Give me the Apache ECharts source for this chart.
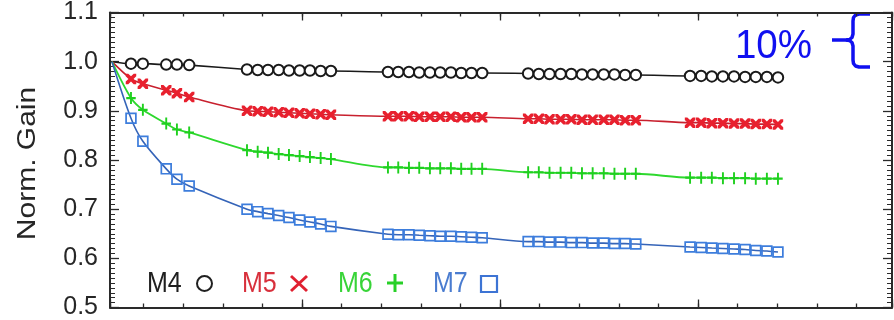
<!DOCTYPE html>
<html>
<head>
<meta charset="utf-8">
<script src="https://cdn.jsdelivr.net/npm/echarts@6/dist/echarts.min.js"></script>
<style>html,body{margin:0;padding:0;background:#fff}#c{width:894px;height:320px}</style>
</head>
<body>
<div id="c"></div>
<script>
// x positions of the measurements (arbitrary x units; x labels are cut off in the reference)
const xValues = [0.20, 0.68, 0.98, 1.57, 1.84, 2.15,
  3.61, 3.88, 4.14, 4.41, 4.67, 4.94, 5.20, 5.47, 5.73,
  7.17, 7.43, 7.70, 7.96, 8.23, 8.49, 8.76, 9.02, 9.28, 9.55,
  10.71, 10.98, 11.25, 11.53, 11.80, 12.07, 12.34, 12.62, 12.89, 13.16, 13.43,
  14.80, 15.08, 15.35, 15.63, 15.91, 16.19, 16.46, 16.74, 17.02];
const m4 = [1.000, 0.996, 0.996, 0.994, 0.994, 0.993,
  0.984, 0.983, 0.983, 0.983, 0.982, 0.982, 0.982, 0.981, 0.981,
  0.979, 0.979, 0.979, 0.978, 0.978, 0.978, 0.978, 0.977, 0.977, 0.977,
  0.976, 0.975, 0.975, 0.975, 0.975, 0.974, 0.974, 0.974, 0.974, 0.973, 0.973,
  0.971, 0.971, 0.970, 0.970, 0.970, 0.969, 0.969, 0.969, 0.968];
const m5 = [1.000, 0.965, 0.955, 0.942, 0.936, 0.928,
  0.900, 0.899, 0.898, 0.897, 0.896, 0.895, 0.894, 0.893, 0.892,
  0.889, 0.889, 0.889, 0.888, 0.888, 0.888, 0.888, 0.887, 0.887, 0.887,
  0.884, 0.884, 0.883, 0.883, 0.883, 0.882, 0.882, 0.882, 0.882, 0.881, 0.881,
  0.876, 0.876, 0.875, 0.875, 0.874, 0.874, 0.873, 0.873, 0.872];
const m6 = [1.000, 0.926, 0.902, 0.874, 0.862, 0.856,
  0.820, 0.817, 0.815, 0.812, 0.810, 0.808, 0.806, 0.804, 0.802,
  0.785, 0.785, 0.784, 0.784, 0.783, 0.783, 0.783, 0.782, 0.782, 0.782,
  0.775, 0.775, 0.774, 0.774, 0.774, 0.773, 0.773, 0.773, 0.772, 0.772, 0.772,
  0.764, 0.764, 0.764, 0.763, 0.763, 0.763, 0.762, 0.762, 0.762];
const m7 = [1.000, 0.885, 0.838, 0.782, 0.761, 0.747,
  0.700, 0.695, 0.691, 0.687, 0.683, 0.678, 0.674, 0.670, 0.665,
  0.649, 0.648, 0.648, 0.647, 0.646, 0.645, 0.645, 0.644, 0.643, 0.642,
  0.634, 0.634, 0.633, 0.633, 0.632, 0.632, 0.631, 0.631, 0.630, 0.630, 0.629,
  0.623, 0.622, 0.621, 0.620, 0.619, 0.618, 0.616, 0.615, 0.613];
const yMin = 0.5, yMax = 1.1, yStep = 0.1;
const xMin = 0.15, xMax = 19.9;
const legendNames = ['M4', 'M5', 'M6', 'M7'];
const yTitle = 'Norm. Gain';
const noteText = '10%';

const FONT = "'Liberation Sans', Arial, Helvetica, sans-serif";
const AX = '#2a2a2a';

function pts(ys) {
  return ys.map((y, i) => i === 0 ? { value: [xValues[i], y], symbol: 'none' } : [xValues[i], y]);
}

const xPath = 'path://M0,0 L2.4,0 L5,2.6 L7.6,0 L10,0 L10,2.4 L7.4,5 L10,7.6 L10,10 L7.6,10 L5,7.4 L2.4,10 L0,10 L0,7.6 L2.6,5 L0,2.4 Z';
const plusPath = 'path://M4,0 L6,0 L6,4.1 L10,4.1 L10,5.9 L6,5.9 L6,10 L4,10 L4,5.9 L0,5.9 L0,4.1 L4,4.1 Z';
const sqPath = 'path://M0,0 L10,0 L10,10 L0,10 Z M1.5,1.5 L1.5,8.5 L8.5,8.5 L8.5,1.5 Z';

function tickAxis(pos, split, len) {
  return {
    type: 'value', position: pos, min: xMin, max: xMax, splitNumber: split,
    axisLine: { show: false }, axisLabel: { show: false }, splitLine: { show: false },
    axisTick: { show: true, inside: true, length: len, lineStyle: { color: AX, width: 1.3 } }
  };
}

const SM = 0.3;
const blue = '#1010f0';
const chart = echarts.init(document.getElementById('c'), null, { renderer: 'canvas' });
chart.setOption({
  animation: false,
  backgroundColor: '#fff',
  grid: { left: 110, right: 2, top: 12, bottom: 6, containLabel: false },
  xAxis: [
    { type: 'value', position: 'bottom', min: xMin, max: xMax,
      axisLine: { show: true, onZero: false, lineStyle: { color: AX, width: 2 } },
      axisTick: { show: false }, axisLabel: { show: false }, splitLine: { show: false } },
    tickAxis('bottom', 20, 4),
    tickAxis('bottom', 4, 8),
    Object.assign(tickAxis('top', 20, 4), { axisLine: { show: true, onZero: false, lineStyle: { color: AX, width: 2 } } }),
    tickAxis('top', 4, 8)
  ],
  yAxis: [
    { type: 'value', position: 'left', min: yMin, max: yMax, interval: yStep,
      axisLine: { show: true, onZero: false, lineStyle: { color: AX, width: 2 } },
      axisTick: { show: true, inside: true, length: 9, lineStyle: { color: AX, width: 1.3 } },
      minorTick: { show: true, splitNumber: 10, length: 5, lineStyle: { color: AX, width: 1 } },
      splitLine: { show: false },
      axisLabel: { show: true, margin: 12, fontSize: 25, fontFamily: FONT, color: '#262626',
        formatter: v => v.toFixed(1) } },
    { type: 'value', position: 'right', min: yMin, max: yMax, interval: yStep,
      axisLine: { show: true, onZero: false, lineStyle: { color: AX, width: 2 } },
      axisTick: { show: true, inside: true, length: 9, lineStyle: { color: AX, width: 1.3 } },
      minorTick: { show: true, splitNumber: 10, length: 5, lineStyle: { color: AX, width: 1 } },
      splitLine: { show: false }, axisLabel: { show: false } }
  ],
  series: [
    { name: legendNames[0], type: 'line', data: pts(m4), smooth: SM,
      symbol: 'emptyCircle', symbolSize: 10.5,
      lineStyle: { color: '#1a1a1a', width: 1.6 },
      itemStyle: { color: '#1a1a1a', borderColor: '#1a1a1a', borderWidth: 1.8 } },
    { name: legendNames[1], type: 'line', data: pts(m5), smooth: SM,
      symbol: xPath, symbolSize: 10.5,
      lineStyle: { color: '#c8202e', width: 1.6 },
      itemStyle: { color: '#e8202e', borderWidth: 0 } },
    { name: legendNames[2], type: 'line', data: pts(m6), smooth: SM,
      symbol: plusPath, symbolSize: [9.5, 12],
      lineStyle: { color: '#2ed82e', width: 1.8 },
      itemStyle: { color: '#1fd01f', borderWidth: 0 } },
    { name: legendNames[3], type: 'line', data: pts(m7), smooth: SM,
      symbol: sqPath, symbolSize: 11.5,
      lineStyle: { color: '#3564b8', width: 1.6 },
      itemStyle: { color: '#3d7ddc', borderWidth: 0 } }
  ],
  graphic: [
    { type: 'text', x: 28, y: 163.5, rotation: Math.PI / 2, scaleX: 1.2,
      style: { text: yTitle, font: '25px ' + FONT, fill: '#262626', align: 'center', verticalAlign: 'middle' } },
    { type: 'text', x: 147, y: 283.5, scaleY: 1.2,
      style: { text: legendNames[0], font: '25px ' + FONT, fill: '#202020', align: 'left', verticalAlign: 'middle' } },
    { type: 'circle', shape: { cx: 204.5, cy: 283.5, r: 7.5 },
      style: { fill: 'none', stroke: '#202020', lineWidth: 2 } },
    { type: 'text', x: 242, y: 283.5, scaleY: 1.2,
      style: { text: legendNames[1], font: '25px ' + FONT, fill: '#d8303c', align: 'left', verticalAlign: 'middle' } },
    { type: 'line', shape: { x1: 291, y1: 276, x2: 307, y2: 291 }, style: { stroke: '#e02030', lineWidth: 3 } },
    { type: 'line', shape: { x1: 307, y1: 276, x2: 291, y2: 291 }, style: { stroke: '#e02030', lineWidth: 3 } },
    { type: 'text', x: 338, y: 283.5, scaleY: 1.2,
      style: { text: legendNames[2], font: '25px ' + FONT, fill: '#38d438', align: 'left', verticalAlign: 'middle' } },
    { type: 'line', shape: { x1: 387, y1: 283, x2: 403, y2: 283 }, style: { stroke: '#28d028', lineWidth: 3 } },
    { type: 'line', shape: { x1: 395, y1: 274, x2: 395, y2: 292 }, style: { stroke: '#28d028', lineWidth: 3 } },
    { type: 'text', x: 433, y: 283.5, scaleY: 1.2,
      style: { text: legendNames[3], font: '25px ' + FONT, fill: '#4a7cd0', align: 'left', verticalAlign: 'middle' } },
    { type: 'rect', shape: { x: 481, y: 276, width: 16, height: 16 },
      style: { fill: 'none', stroke: '#3d74d4', lineWidth: 2.2 } },
    { type: 'text', x: 773.5, y: 47, scaleX: 0.94,
      style: { text: noteText, font: '41px ' + FONT, fill: blue, align: 'center', verticalAlign: 'middle' } },
    { type: 'polyline', shape: { points: [[870, 14], [859, 14], [855.5, 15], [853.5, 17.5], [853, 21], [853, 34], [852, 37.5], [849.5, 39.5], [846, 40], [832, 40]] },
      style: { fill: 'none', stroke: blue, lineWidth: 3.5, lineJoin: 'round' } },
    { type: 'polyline', shape: { points: [[846, 40], [849.5, 40.5], [852, 42.5], [853, 46], [853, 60], [853.5, 63.5], [855.5, 66], [859, 67], [870, 67]] },
      style: { fill: 'none', stroke: blue, lineWidth: 3.5, lineJoin: 'round' } }
  ]
});
</script>
</body>
</html>
